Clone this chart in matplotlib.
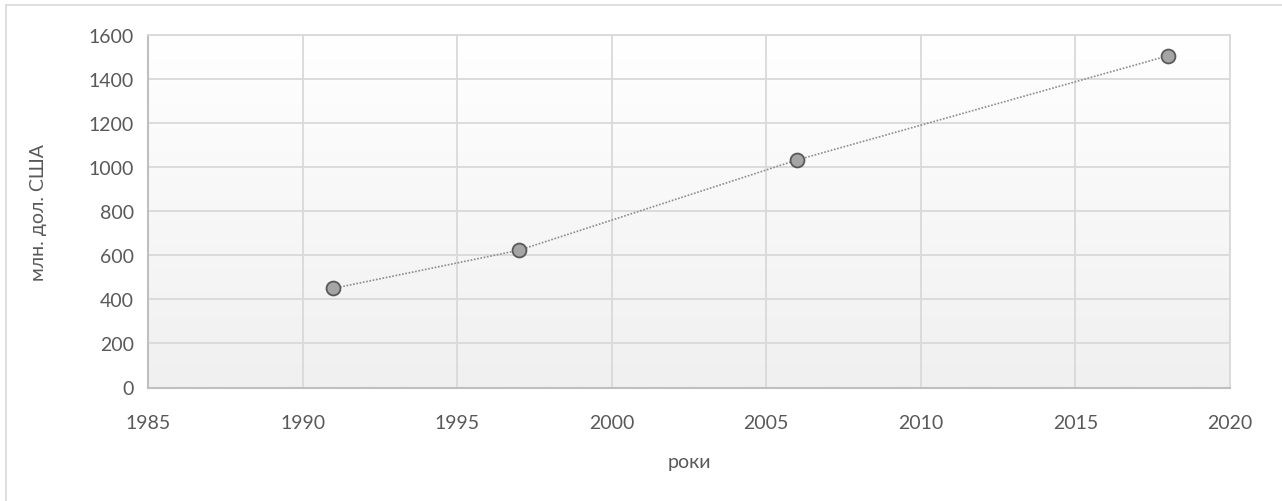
import matplotlib
matplotlib.use("Agg")
import matplotlib.pyplot as plt
import numpy as np
from matplotlib.lines import Line2D

years = [1991, 1997, 2006, 2018]
values = [450, 623, 1033, 1506]
x_ticks = [1985, 1990, 1995, 2000, 2005, 2010, 2015, 2020]
y_ticks = [0, 200, 400, 600, 800, 1000, 1200, 1400, 1600]
x_label = "роки"
y_label = "млн. дол. США"

plt.rcParams['font.family'] = ['Lato', 'DejaVu Sans']
W, H = 1282, 502
fig = plt.figure(figsize=(W / 100, H / 100), dpi=100)
fig.patch.set_facecolor("white")

# outer chart border (only top and left visible)
fig.lines.append(Line2D([6 / W, 1.0], [1 - 6 / H, 1 - 6 / H], transform=fig.transFigure,
                        color="#d9d9d9", linewidth=1.2))
fig.lines.append(Line2D([6 / W, 6 / W], [0, 1 - 6 / H], transform=fig.transFigure,
                        color="#d9d9d9", linewidth=1.2))

left, right, top, bottom = 148, 1230, 36, 388.5
ax = fig.add_axes([left / W, 1 - bottom / H, (right - left) / W, (bottom - top) / H])

ax.set_xlim(1985, 2020)
ax.set_ylim(0, 1600)

# gradient background
grad = np.linspace(0, 1, 256).reshape(-1, 1)
cmap = matplotlib.colors.LinearSegmentedColormap.from_list("g", ["#f0f0f0", "#ffffff"])
ax.imshow(grad, extent=[1985, 2020, 0, 1600], origin="lower", aspect="auto",
          cmap=cmap, zorder=0, interpolation="bilinear")

ax.set_xticks(x_ticks)
ax.set_yticks(y_ticks)
ax.grid(True, color="#d9d9d9", linewidth=1.3, zorder=1)
ax.set_axisbelow(True)
ax.tick_params(axis="both", length=0, labelsize=14, colors="#595959")
ax.tick_params(axis="x", pad=19)
ax.tick_params(axis="y", pad=10)
for s in ["top", "right"]:
    ax.spines[s].set_color("#d9d9d9")
    ax.spines[s].set_linewidth(1.3)
for s in ["left", "bottom"]:
    ax.spines[s].set_color("#bfbfbf")
    ax.spines[s].set_linewidth(1.5)

ax.plot(years, values, linestyle=(0, (1, 1)), color="#8c8c8c", linewidth=1.2,
        marker="o", markersize=10, markerfacecolor="#a5a5a5",
        markeredgecolor="#595959", markeredgewidth=1.3, zorder=3)

ax.set_xlabel(x_label, fontsize=14, color="#595959", labelpad=16)
ax.set_ylabel(y_label, fontsize=14, color="#595959", labelpad=30)

fig.savefig("out.png", dpi=100, facecolor="white")
